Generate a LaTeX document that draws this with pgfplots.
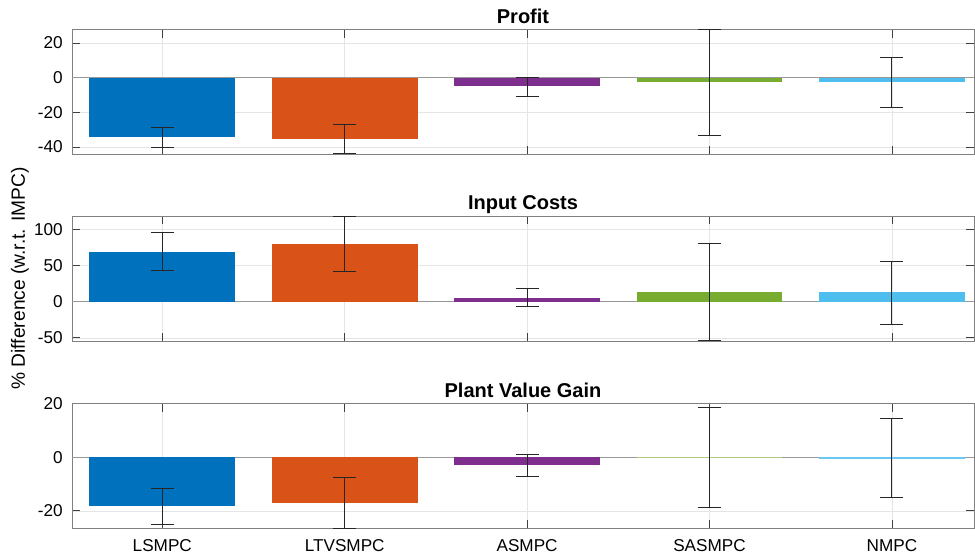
\documentclass[border=0pt]{standalone}
\usepackage{pgfplots}
\pgfplotsset{compat=1.18}
\usepackage{fontspec}
\setmainfont{Liberation Sans}
\definecolor{mBlue}{RGB}{0,114,189}
\definecolor{mOrange}{RGB}{217,83,25}
\definecolor{mPurple}{RGB}{126,47,142}
\definecolor{mGreen}{RGB}{119,172,48}
\definecolor{mCyan}{RGB}{77,190,238}
\pgfplotsset{
 mstyle/.style={
  scale only axis, width=541.2pt, height=75pt, anchor=north west,
  xmin=0.505, xmax=5.45, xtick={1,2,3,4,5},
  axis line style={black!50, line width=0.5pt},
  tick style={black!75, line width=0.5pt},
  major tick length=5pt,
  tick align=inside,
  grid=major, major grid style={black!10, line width=0.4pt},
  ticklabel style={font=\fontsize{10.3}{12}\selectfont},
  /pgf/number format/assume math mode=true,
  yticklabel style={xshift=-2pt},
  title style={at={(0.5,1)}, anchor=base, yshift=-2.2pt, font=\bfseries\fontsize{12}{14}\selectfont},
  extra y ticks={0}, extra y tick labels={},
  extra y tick style={major grid style={black!40, line width=0.6pt}, major tick length=0pt},
  clip=false,
 },
 mbar/.style={ybar, bar width=0.8, bar shift=0pt, draw=none, fill=#1,
  error bars/.cd, y dir=both, y explicit, error mark=|,
  error bar style={black!85, line width=0.6pt},
  error mark options={black!85, line width=0.6pt, mark size=6.9pt}},
}
\begin{document}
\begin{tikzpicture}
\path[use as bounding box] (0,0) rectangle (585pt,-334.8pt);
% Profit
\begin{axis}[mstyle, at={(43.2pt,-17.6pt)}, title={Profit},
  ymin=-44.2, ymax=27.9, ytick={-40,-20,0,20}, xticklabels={}]
\addplot[mbar=mBlue] coordinates {(1,-34.2) += (0,5.5) -= (0,5.9)};
\addplot[mbar=mOrange] coordinates {(2,-35.6) += (0,8.5) -= (0,8.4)};
\addplot[mbar=mPurple] coordinates {(3,-5.0) += (0,5.4) -= (0,5.8)};
\addplot[mbar=mGreen] coordinates {(4,-2.7) += (0,30.6) -= (0,30.8)};
\addplot[mbar=mCyan] coordinates {(5,-2.5) += (0,14.4) -= (0,14.4)};
\end{axis}
% Input Costs
\begin{axis}[mstyle, at={(43.2pt,-129.6pt)}, title={Input Costs},
  ymin=-54.4, ymax=118.9, ytick={-50,0,50,100}, xticklabels={}]
\addplot[mbar=mBlue] coordinates {(1,69.6) += (0,26.3) -= (0,26.3)};
\addplot[mbar=mOrange] coordinates {(2,80.2) += (0,38.7) -= (0,37.8)};
\addplot[mbar=mPurple] coordinates {(3,5.5) += (0,12.5) -= (0,12.4)};
\addplot[mbar=mGreen] coordinates {(4,12.9) += (0,67.7) -= (0,66.8)};
\addplot[mbar=mCyan] coordinates {(5,12.9) += (0,42.9) -= (0,43.8)};
\end{axis}
% Plant Value Gain
\begin{axis}[mstyle, at={(43.2pt,-242pt)}, title={Plant Value Gain},
  ymin=-26.5, ymax=20, ytick={-20,0,20},
  xticklabels={LSMPC,LTVSMPC,ASMPC,SASMPC,NMPC},
  xticklabel style={yshift=-3pt}]
\addplot[mbar=mBlue] coordinates {(1,-18.2) += (0,6.7) -= (0,6.8)};
\addplot[mbar=mOrange] coordinates {(2,-16.9) += (0,9.3) -= (0,9.5)};
\addplot[mbar=mPurple] coordinates {(3,-3.1) += (0,4.2) -= (0,4.2)};
\addplot[mbar=mGreen!60] coordinates {(4,-0.35) += (0,18.65) -= (0,18.25)};
\addplot[mbar=mCyan!85] coordinates {(5,-0.6) += (0,14.9) -= (0,14.5)};
\end{axis}
\node[rotate=90, font=\fontsize{11.5}{13}\selectfont] at (12pt,-167.1pt) {\% Difference (w.r.t. IMPC)};
\end{tikzpicture}
\end{document}
